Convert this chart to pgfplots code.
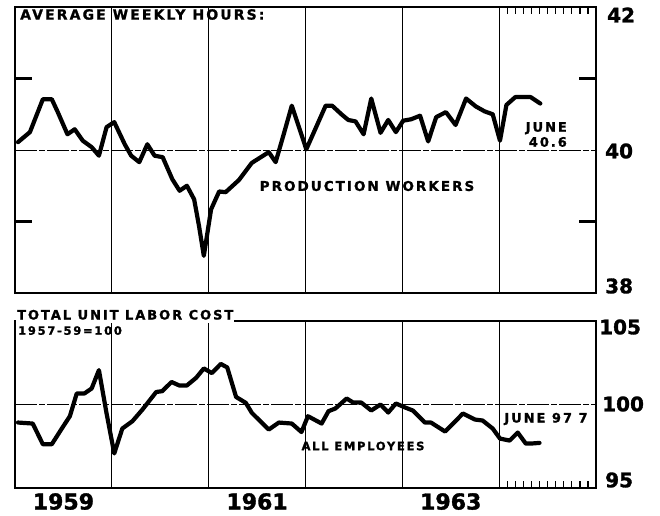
\documentclass[border=0pt]{standalone}
\usepackage{pgfplots}
\pgfplotsset{compat=1.18}
\usepackage{fontspec}
\setmainfont{DejaVu Sans}
\newfontfamily\lab[LetterSpace=15, BoldFeatures={FakeBold=1.2}]{DejaVu Sans}
\newfontfamily\num[BoldFeatures={FakeBold=1.5}]{DejaVu Sans}
\newcommand\setfs[1]{\fontsize{#1}{#1}\selectfont}

\pgfplotstableread{
m v
0.37 40.11
1.85 40.25
3.45 40.71
4.56 40.71
5.3 40.53
6.5 40.22
7.4 40.29
8.4 40.13
9.5 40.04
10.4 39.92
11.35 40.32
12.3 40.39
13.6 40.08
14.4 39.92
15.4 39.83
16.4 40.08
17.3 39.92
18.3 39.90
19.5 39.59
20.4 39.43
21.3 39.50
22.2 39.31
22.8 38.94
23.4 38.52
24.3 39.17
25.3 39.42
26.1 39.41
27.75 39.58
29.35 39.82
31.45 39.97
32.3 39.83
33.3 40.22
34.3 40.62
36.1 40.01
38.5 40.62
39.3 40.62
40.45 40.50
41.3 40.42
42.2 40.40
43.2 40.22
44.15 40.72
45.3 40.24
46.25 40.42
47.2 40.25
48.1 40.41
49.1 40.43
50.2 40.48
51.2 40.12
52.2 40.46
53.4 40.53
54.6 40.35
55.9 40.72
57.1 40.61
58.2 40.54
59.2 40.50
60.1 40.13
60.9 40.63
62.0 40.74
63.9 40.74
65.1 40.65
}\hours

\pgfplotstableread{
m v
0.37 98.92
2.2 98.86
3.45 97.62
4.56 97.62
5.8 98.56
6.8 99.3
7.65 100.66
8.6 100.66
9.5 100.96
10.4 102.06
11.35 99.46
12.3 97.07
13.3 98.56
14.55 99.0
15.8 99.7
17.5 100.75
18.25 100.8
19.4 101.35
20.35 101.14
21.3 101.14
22.45 101.6
23.4 102.16
24.4 101.88
25.5 102.43
26.3 102.22
27.4 100.45
28.6 100.1
29.35 99.5
30.5 98.95
31.45 98.5
32.7 98.92
34.3 98.86
35.5 98.35
36.3 99.3
38.0 98.86
38.85 99.6
39.7 99.76
41.1 100.36
41.9 100.12
42.9 100.12
44.15 99.64
45.3 100.0
46.25 99.52
47.2 100.06
48.35 99.82
49.3 99.64
50.8 98.92
51.55 98.92
53.3 98.38
54.3 98.86
55.5 99.46
57.0 99.10
57.95 99.04
59.2 98.56
60.1 97.96
61.3 97.84
62.3 98.32
63.3 97.66
63.9 97.66
65.0 97.70
}\labor

\pgfplotsset{
  panel/.style={
    scale only axis, width=581pt, xmin=0, xmax=72,
    axis line style={line width=2.8pt, black},
    xtick={12,24,36,48,60}, xticklabels={},
    xmajorgrids, major grid style={line width=1.2pt, black},
    major tick length=0pt, ytick=\empty,
    clip=false,
  },
  curve/.style={black, line width=4.2pt, line join=round, line cap=round, no markers},
  refline/.style={black, line width=1pt, dash pattern=on 22pt off 2pt on 6pt off 2pt, no markers},
}

\begin{document}
\begin{tikzpicture}
% ---------- top panel ----------
\begin{axis}[panel, at={(15pt,222pt)}, anchor=south west, height=286pt,
  ymin=38, ymax=42,
  extra y ticks={39,41}, extra y tick labels={},
  extra y tick style={major tick length=17pt, tick align=inside, tick style={line width=2.2pt, black}},
]
\addplot[refline] coordinates {(0,40) (72,40)};
\addplot[curve] table[x=m, y=v] {\hours};
\pgfplotsinvokeforeach{61,...,71}{\draw[line width=1.4pt] (axis cs:#1,42) -- ([yshift=-7pt]axis cs:#1,42);}
\end{axis}
% ---------- bottom panel ----------
\begin{axis}[panel, at={(15pt,27pt)}, anchor=south west, height=167pt,
  ymin=95, ymax=105,
  extra x ticks={6,30,54}, extra x tick labels={1959,1961,1963},
  extra x tick style={grid=none, major tick length=0pt},
  xticklabel style={font=\num\bfseries\setfs{22}, inner sep=0pt, anchor=north, yshift=-5pt},
]
\addplot[refline] coordinates {(0,100) (72,100)};
\addplot[curve] table[x=m, y=v] {\labor};
\pgfplotsinvokeforeach{61,...,71}{\draw[line width=1.4pt] (axis cs:#1,95) -- ([yshift=7pt]axis cs:#1,95);}
\end{axis}

% ---------- texts ----------
\node[anchor=north west, inner sep=0pt, font=\lab\bfseries\setfs{14}] at (20pt,506pt) {AVERAGE WEEKLY HOURS:};
\node[inner sep=0pt, font=\lab\bfseries\setfs{13.5}] at (367pt,329pt) {PRODUCTION WORKERS};
\node[anchor=north east, inner sep=0pt, align=right, font=\lab\bfseries\setfs{13}] at (567pt,393pt) {JUNE\\[2pt]40.6};
\node[anchor=base west, fill=white, inner xsep=1pt, inner ysep=3pt, font=\lab\bfseries\setfs{13}] at (16pt,195.5pt) {TOTAL UNIT LABOR COST};
\node[anchor=north west, inner sep=0pt, font=\lab\bfseries\setfs{11.5}] at (18pt,189pt) {1957-59=100};
\node[inner sep=0pt, font=\lab\bfseries\setfs{11.5}] at (363pt,69pt) {ALL EMPLOYEES};
\node[inner sep=0pt, font=\lab\bfseries\setfs{13}] at (546pt,96pt) {JUNE 97 7};
% right scale numbers
\node[anchor=west, inner sep=0pt, font=\num\bfseries\setfs{20}] at (607pt,500pt) {42};
\node[anchor=west, inner sep=0pt, font=\num\bfseries\setfs{20}] at (605pt,364pt) {40};
\node[anchor=west, inner sep=0pt, font=\num\bfseries\setfs{20}] at (605pt,229pt) {38};
\node[anchor=west, inner sep=0pt, font=\num\bfseries\setfs{20}] at (599pt,188pt) {105};
\node[anchor=west, inner sep=0pt, font=\num\bfseries\setfs{20}] at (602pt,111pt) {100};
\node[anchor=west, inner sep=0pt, font=\num\bfseries\setfs{20}] at (605pt,35pt) {95};

\pgfresetboundingbox
\path (0pt,0pt) rectangle (660pt,515pt);
\end{tikzpicture}
\end{document}
